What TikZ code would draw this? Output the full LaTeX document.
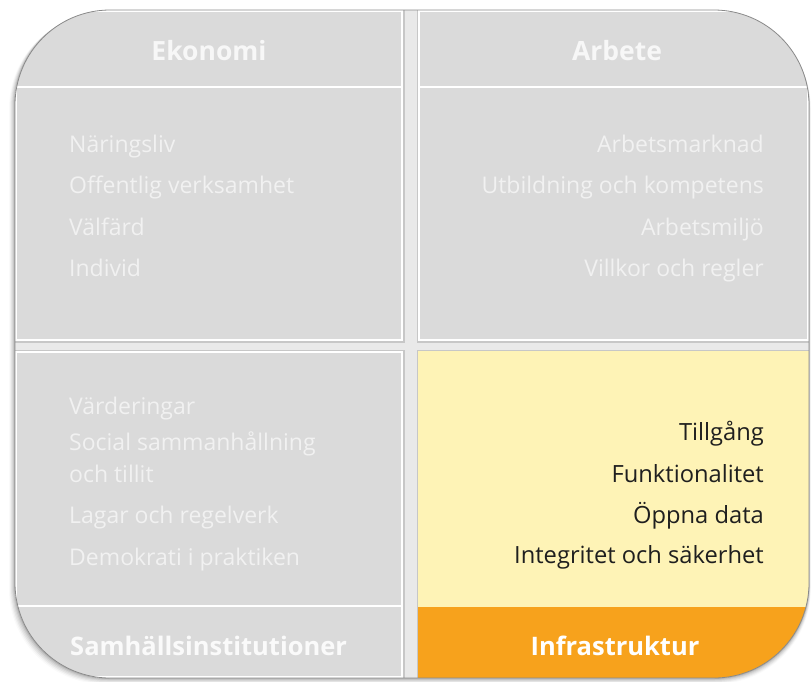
\documentclass[tikz,border=0pt]{standalone}
\usepackage{fontspec}
\setmainfont{Open Sans}
\definecolor{qgray}{HTML}{DADADA}
\definecolor{gapgray}{HTML}{E9E9E9}
\definecolor{gtext}{HTML}{F1F1F1}
\definecolor{htext}{HTML}{F7F7F7}
\definecolor{qyellow}{HTML}{FEF3B6}
\definecolor{qorange}{HTML}{F7A21C}
\definecolor{rimgray}{HTML}{8A8A8A}
\begin{document}
\begin{tikzpicture}[x=1pt,y=-1pt,
  grey/.style={font=\fontsize{23}{27}\selectfont, inner sep=0pt, text=gtext},
  dark/.style={font=\fontsize{23.7}{28}\selectfont, inner sep=0pt, text=black!88},
  head/.style={font=\fontsize{26.5}{31}\selectfont\bfseries, text=htext, inner sep=0pt},
  foot/.style={font=\fontsize{25.5}{30}\selectfont\bfseries, text=white, inner sep=0pt},
  quadrim/.style={draw=black!22, line width=3pt},
  quadedge/.style={draw=white, line width=1.2pt},
  sep/.style={draw=white, line width=1.6pt}]
\useasboundingbox (0,0) rectangle (811,681);
% soft shadow
\foreach \i/\o in {1/0.10,2/0.08,3/0.06,4/0.05,5/0.035,6/0.02}{
  \fill[black, opacity=\o, rounded corners=95pt] (15-\i,10+0.6*\i) rectangle (809+0.3*\i,678+\i);
}
% outer body
\fill[gapgray, rounded corners=95pt] (15,10) rectangle (809,678);
\begin{scope}
  \clip[rounded corners=95pt] (15,10) rectangle (809,678);
  % rims (gap shading)
  \draw[quadrim] (15,10) rectangle (403,341);
  \draw[quadrim] (418,10) rectangle (809,341);
  \draw[quadrim] (15,351) rectangle (403,678);
  \draw[quadrim] (418,351) rectangle (809,678);
  % quadrants
  \fill[qgray] (15,10) rectangle (403,341);
  \fill[qgray] (418,10) rectangle (809,341);
  \fill[qgray] (15,351) rectangle (403,678);
  \fill[qyellow] (418,351) rectangle (809,678);
  \fill[qorange] (418,607) rectangle (809,678);
  % inner white edges
  \draw[quadedge] (16,11) rectangle (402,340);
  \draw[quadedge] (419,11) rectangle (808,340);
  \draw[quadedge] (16,352) rectangle (402,677);
  % separators
  \draw[sep] (15,87) -- (403,87);
  \draw[sep] (418,87) -- (809,87);
  \draw[sep] (15,606) -- (403,606);
\end{scope}
% outer rim
\draw[rimgray, line width=0.8pt, rounded corners=95pt] (15,10) rectangle (809,678);
% headers
\node[head, anchor=base] (ekonomi) at (209,60) {Ekonomi};
\node[head, anchor=base] (arbete) at (617,60) {Arbete};
% Ekonomi items
\node[grey, anchor=base west] (e1) at (69,152) {Näringsliv};
\node[grey, anchor=base west] (e2) at (69,193) {Offentlig verksamhet};
\node[grey, anchor=base west] (e3) at (69,235) {Välfärd};
\node[grey, anchor=base west] (e4) at (69,276) {Individ};
% Arbete items
\node[grey, anchor=base east] (a1) at (764,152) {Arbetsmarknad};
\node[grey, anchor=base east] (a2) at (764,193) {Utbildning och kompetens};
\node[grey, anchor=base east] (a3) at (764,235) {Arbetsmiljö};
\node[grey, anchor=base east] (a4) at (764,276) {Villkor och regler};
% Samhällsinstitutioner items
\node[grey, anchor=base west] (s1) at (69,414) {Värderingar};
\node[grey, anchor=base west] (s2) at (69,450) {Social sammanhållning};
\node[grey, anchor=base west] (s2b) at (69,482) {och tillit};
\node[grey, anchor=base west] (s3) at (69,523) {Lagar och regelverk};
\node[grey, anchor=base west] (s4) at (69,565) {Demokrati i praktiken};
\node[foot, anchor=base west, text=white!96!gray] (samh) at (70,655) {Samhällsinstitutioner};
% Infrastruktur items
\node[dark, anchor=base east] (i1) at (764,440) {Tillgång};
\node[dark, anchor=base east] (i2) at (764,482) {Funktionalitet};
\node[dark, anchor=base east] (i3) at (764,523) {Öppna data};
\node[dark, anchor=base east] (i4) at (764,563) {Integritet och säkerhet};
\node[foot, anchor=base] (infra) at (615,655) {Infrastruktur};
\end{tikzpicture}
\end{document}
